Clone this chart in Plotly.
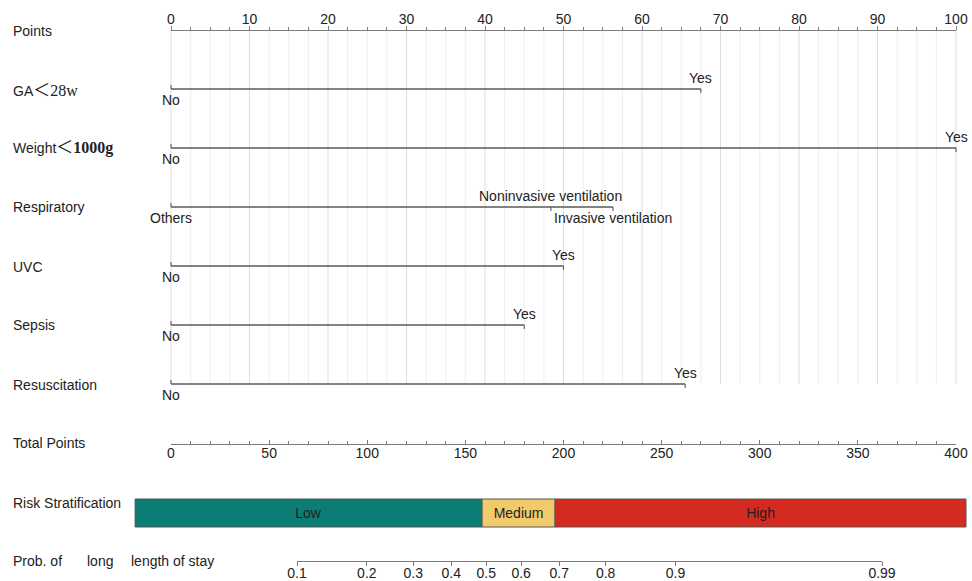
import numpy as np
import plotly.graph_objects as go

# ---------------- data ----------------
variables = ["GA", "Weight", "Respiratory", "UVC", "Sepsis", "Resuscitation"]
levels = {
    "GA": ["No", "Yes"],
    "Weight": ["No", "Yes"],
    "Respiratory": ["Others", "Noninvasive ventilation", "Invasive ventilation"],
    "UVC": ["No", "Yes"],
    "Sepsis": ["No", "Yes"],
    "Resuscitation": ["No", "Yes"],
}
level_points = {
    "GA": [0, 67.5],
    "Weight": [0, 100],
    "Respiratory": [0, 48.4, 56.3],
    "UVC": [0, 50],
    "Sepsis": [0, 45],
    "Resuscitation": [0, 65.5],
}
# label placement: +1 above line, -1 below line
level_side = {
    "GA": [-1, 1],
    "Weight": [-1, 1],
    "Respiratory": [-1, 1, -1],
    "UVC": [-1, 1],
    "Sepsis": [-1, 1],
    "Resuscitation": [-1, 1],
}
points_ticks = list(range(0, 101, 10))
total_ticks = list(range(0, 401, 50))
prob_ticks = [0.1, 0.2, 0.3, 0.4, 0.5, 0.6, 0.7, 0.8, 0.9, 0.99]
prob_labels = ["0.1", "0.2", "0.3", "0.4", "0.5", "0.6", "0.7", "0.8", "0.9", "0.99"]
risk_names = ["Low", "Medium", "High"]
risk_bounds = [-18.3, 158.5, 195.7, 405.1]  # in total points
risk_colors = ["#0c7d75", "#f1ca6b", "#d52a21"]

# ---------------- layout constants ----------------
W, H = 972, 581
X0_PX, X100_PX = 171, 956          # points 0 and 100
PPX = (X100_PX - X0_PX) / 100.0    # px per point
data_range = [(0 - X0_PX) / PPX, (W - X0_PX) / PPX]
P_LO_PX, P_HI_PX = 297, 882        # prob axis ends

row_y = {"Points": 30, "GA": 89, "Weight": 148, "Respiratory": 207, "UVC": 266,
         "Sepsis": 325, "Resuscitation": 384, "Total": 444, "Risk": 513, "Prob": 561}

FONT = "Liberation Sans"
TXT = "#222222"
LINE = "#5a5a5a"
AX = "#7a7a7a"


def logit(p):
    return np.log(p / (1 - p))


fig = go.Figure()

# grid lines (every 2.5 points)
for v in np.arange(0, 100.01, 2.5):
    major = abs(v % 10) < 1e-9
    fig.add_shape(type="line", xref="x", yref="y", x0=v, x1=v,
                  y0=row_y["Points"], y1=row_y["Resuscitation"],
                  line=dict(color="#dddddd" if major else "#eeeeee", width=1),
                  layer="below")

# variable lines
for var in variables:
    y = row_y[var]
    pts = level_points[var]
    fig.add_trace(go.Scatter(x=[min(pts), max(pts)], y=[y, y], mode="lines",
                             line=dict(color=LINE, width=1.3), hoverinfo="skip",
                             showlegend=False, xaxis="x", yaxis="y"))
    tx, ty = [], []
    for i, p in enumerate(pts):
        tx += [p, p, None]
        if i == 0:
            ty += [y - 4, y, None]
        else:
            ty += [y, y + 4, None]
    fig.add_trace(go.Scatter(x=tx, y=ty, mode="lines",
                             line=dict(color=LINE, width=1.1), hoverinfo="skip",
                             showlegend=False, xaxis="x", yaxis="y"))
    for lab, p, s in zip(levels[var], pts, level_side[var]):
        fig.add_annotation(x=p, y=y, xref="x", yref="y", text=lab, showarrow=False,
                           xanchor="center", yanchor="middle", yshift=11 * s,
                           font=dict(family=FONT, size=14, color=TXT))

# risk stratification bar
for name, a, b, c in zip(risk_names, risk_bounds[:-1], risk_bounds[1:], risk_colors):
    fig.add_trace(go.Bar(x=[b - a], base=[a], y=[row_y["Risk"]], orientation="h",
                         width=28, marker=dict(color=c, line=dict(color="#555555", width=1)),
                         text=[name], textposition="inside", insidetextanchor="middle",
                         constraintext="none",
                         textfont=dict(family=FONT, size=14, color=TXT),
                         hoverinfo="skip", showlegend=False, xaxis="x5", yaxis="y"))

# dummy traces so that each axis is drawn
for ax in ["x2", "x3", "x4"]:
    fig.add_trace(go.Scatter(x=[None], y=[None], mode="markers", xaxis=ax, yaxis="y",
                             hoverinfo="skip", showlegend=False))

# row labels
sans = FONT
LT = "<span style=\"font-family:'Noto Sans CJK SC';font-size:17px\">＜</span>"
row_labels = [
    ("Points", 31),
    ("GA" + LT + "<span style=\"font-family:'Liberation Serif';font-size:16px\">28w</span>", 88),
    ("Weight" + LT + "<span style=\"font-family:'Liberation Serif';font-size:16px;"
     "font-weight:bold\">1000g</span>", 146),
    ("Respiratory", 207),
    ("UVC", 267),
    ("Sepsis", 325),
    ("Resuscitation", 385),
    ("Total Points", 443),
    ("Risk Stratification", 503),
]
for txt, ypx in row_labels:
    fig.add_annotation(x=11 / W, y=1 - ypx / H, xref="paper", yref="paper", text=txt,
                       showarrow=False, xanchor="left", yanchor="middle",
                       font=dict(family=sans, size=14, color=TXT))
for txt, xpx in [("Prob. of", 11), ("long", 85), ("length of stay", 129)]:
    fig.add_annotation(x=xpx / W, y=1 - 561 / H, xref="paper", yref="paper", text=txt,
                       showarrow=False, xanchor="left", yanchor="middle",
                       font=dict(family=sans, size=14, color=TXT))

tickfont = dict(family=FONT, size=14, color=TXT)
fig.update_layout(
    width=W, height=H, margin=dict(l=0, r=0, t=0, b=0, autoexpand=False),
    paper_bgcolor="white", plot_bgcolor="rgba(0,0,0,0)",
    barmode="overlay",
    xaxis=dict(domain=[0, 1], range=data_range, visible=False, anchor="y",
               automargin=False),
    xaxis5=dict(domain=[0, 1], range=[data_range[0] * 4, data_range[1] * 4],
                visible=False, anchor="y", automargin=False),
    xaxis2=dict(domain=[X0_PX / W, X100_PX / W], range=[0, 100], anchor="free",
                position=1 - row_y["Points"] / H, side="top", automargin=False,
                showline=True, linecolor=AX, linewidth=1.3,
                ticks="outside", ticklen=4, tickcolor=AX, tickwidth=1,
                ticklabelstandoff=-4,
                tickmode="array", tickvals=points_ticks,
                minor=dict(tickmode="linear", tick0=0, dtick=2.5, ticks="outside",
                           ticklen=3, tickcolor=AX, showgrid=False),
                showgrid=False, zeroline=False, tickfont=tickfont),
    xaxis3=dict(domain=[X0_PX / W, X100_PX / W], range=[0, 400], anchor="free",
                position=1 - row_y["Total"] / H, side="bottom", automargin=False,
                showline=True, linecolor=AX, linewidth=1.3,
                ticks="inside", ticklen=4, tickcolor=AX,
                ticklabelstandoff=-4,
                tickmode="array", tickvals=total_ticks,
                minor=dict(tickmode="linear", tick0=0, dtick=10, ticks="inside",
                           ticklen=3, tickcolor=AX, showgrid=False),
                showgrid=False, zeroline=False, tickfont=tickfont),
    xaxis4=dict(domain=[P_LO_PX / W, P_HI_PX / W],
                range=[logit(prob_ticks[0]), logit(prob_ticks[-1])], anchor="free",
                position=1 - row_y["Prob"] / H, side="bottom", automargin=False,
                showline=True, linecolor=AX, linewidth=1.3,
                ticks="outside", ticklen=4, tickcolor=AX,
                ticklabelstandoff=-5,
                tickmode="array", tickvals=[logit(p) for p in prob_ticks],
                ticktext=prob_labels,
                showgrid=False, zeroline=False, tickfont=tickfont),
    yaxis=dict(domain=[0, 1], range=[H, 0], visible=False, anchor="x",
               automargin=False),
)

fig.write_html("out.html")
